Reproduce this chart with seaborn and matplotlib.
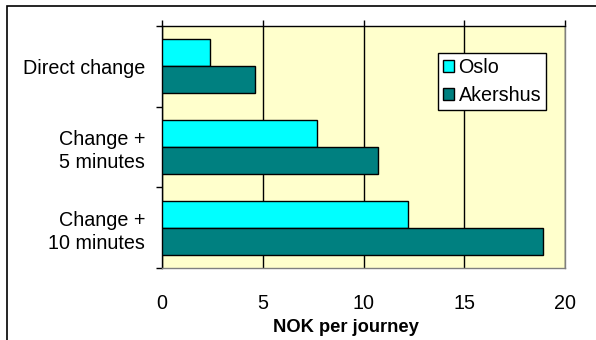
import matplotlib
matplotlib.use("Agg")
import matplotlib.pyplot as plt
import seaborn as sns
import pandas as pd
from matplotlib.patches import Rectangle

categories = ["Direct change", "Change +\n5 minutes", "Change +\n10 minutes"]
regions = ["Oslo", "Akershus"]
oslo = [2.4, 7.7, 12.2]
akershus = [4.6, 10.7, 18.9]
x_ticks = [0, 5, 10, 15, 20]

df = pd.DataFrame({
    "category": categories * 2,
    "region": [regions[0]] * 3 + [regions[1]] * 3,
    "value": oslo + akershus,
})

sns.set_theme(style="white")
plt.rcParams["font.family"] = ["Liberation Sans", "DejaVu Sans"]
FS = 14.2

fig = plt.figure(figsize=(5.96, 3.40), dpi=100)
ax = fig.add_axes([162 / 596, 1 - 268 / 340, (565 - 162) / 596, (268 - 26) / 340])

# outer chart frame (only left and top edges fall inside the image)
fig.patches.append(Rectangle((7 / 596, -0.1), 1.2, (1 - 6 / 340) + 0.1,
                             transform=fig.transFigure, fill=False,
                             edgecolor="black", linewidth=1.2))

ax.set_facecolor("#FFFFCC")
sns.barplot(data=df, y="category", x="value", hue="region", orient="h",
            palette=["#00FFFF", "#008080"], saturation=1, order=categories,
            hue_order=regions, width=0.667, edgecolor="black",
            linewidth=1, ax=ax, zorder=3)

ax.set_xlim(0, 20)
ax.set_ylim(2.5, -0.5)
ax.set_xticks(x_ticks)
ax.set_xticklabels([str(v) for v in x_ticks], fontsize=FS)
ax.xaxis.grid(True, color="black", linewidth=1, zorder=1)
ax.set_axisbelow(True)
ax.tick_params(axis="x", top=True, bottom=False, labeltop=False,
               labelbottom=True, direction="out", length=4.5, width=1,
               color="black", pad=14, labelcolor="black")

ax.set_yticks([0, 1, 2])
ax.set_yticklabels(categories, fontsize=FS, linespacing=1.3)
ax.set_yticks([-0.5, 0.5, 1.5, 2.5], minor=True)
ax.tick_params(axis="y", which="major", length=0, pad=12, left=False,
               labelcolor="black")
ax.tick_params(axis="y", which="minor", left=True, direction="out",
               length=4.5, width=1, color="black")
ax.set_ylabel("")
ax.set_xlabel("")

for side in ["left", "top"]:
    ax.spines[side].set_color("black")
    ax.spines[side].set_linewidth(1)
for side in ["right", "bottom"]:
    ax.spines[side].set_color("#808080")
    ax.spines[side].set_linewidth(1)
    ax.spines[side].set_visible(True)

fig.text(345.6 / 596, 1 - 328 / 340, "NOK per journey", ha="center",
         va="center", fontsize=13.2, fontweight="bold", color="black")

leg = ax.legend(loc="upper right", bbox_to_anchor=(0.953, 0.888),
                borderaxespad=0, frameon=True, fancybox=False,
                edgecolor="black", facecolor="white", framealpha=1,
                fontsize=FS, handlelength=0.55, handleheight=0.55,
                handletextpad=0.22, labelspacing=0.45, borderpad=0.25)
leg.get_frame().set_linewidth(1)
for t in leg.get_texts():
    t.set_color("black")

fig.savefig("out.png", dpi=100)
